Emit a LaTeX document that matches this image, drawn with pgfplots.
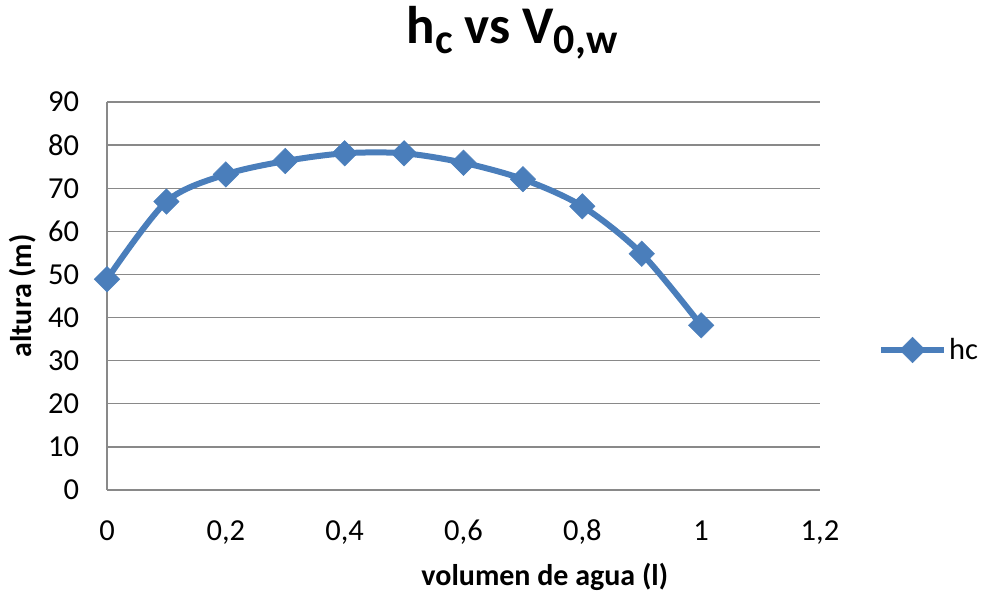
\documentclass[border=0pt]{standalone}
\usepackage{pgfplots}
\pgfplotsset{compat=1.18}
\usepackage{fontspec}
\setmainfont{Carlito}
\definecolor{serie}{HTML}{4A7EBB}
\definecolor{gridc}{HTML}{898989}
\begin{document}
\begin{tikzpicture}
\useasboundingbox (-107pt,-103pt) rectangle (874pt,490pt);
\begin{axis}[
  at={(0pt,0pt)}, anchor=south west,
  scale only axis, width=713pt, height=388pt,
  xmin=0, xmax=1.2, ymin=0, ymax=90,
  xtick={0,0.2,0.4,0.6,0.8,1,1.2},
  xticklabels={0,{0,2},{0,4},{0,6},{0,8},1,{1,2}},
  ytick={0,10,...,90},
  /pgf/number format/assume math mode=true,
  major tick length=0pt,
  tick style={draw=none},
  axis x line*=bottom, axis y line*=left,
  axis line style={-, draw=gridc, line width=1.3pt},
  ymajorgrids, grid style={draw=gridc, line width=1.3pt},
  ticklabel style={font=\fontsize{30.5}{36}\selectfont, inner sep=0pt},
  yticklabel style={anchor=east, xshift=-27.7pt},
  xticklabel style={anchor=base, yshift=-50pt},
  clip=false,
  title={h\raisebox{-10.5pt}{\fontsize{42}{48}\selectfont c} vs V\raisebox{-10.5pt}{\fontsize{42}{48}\selectfont 0,w}},
  title style={font=\fontsize{53}{60}\selectfont\bfseries, at={(axis description cs:0.568,1)}, anchor=base, yshift=52.7pt},
  xlabel={volumen de agua (l)},
  xlabel style={font=\fontsize{30}{36}\selectfont\bfseries, at={(axis description cs:0.614,0)}, anchor=base, yshift=-95pt},
  ylabel={altura (m)},
  ylabel style={font=\fontsize{30}{36}\selectfont\bfseries, at={(axis description cs:-0.1178,0.5)}, anchor=center},
  legend style={draw=none, fill=none, inner sep=0pt, outer sep=0pt,
    at={(axis description cs:1.087,0.3608)}, anchor=west, xshift=-4pt,
    font=\fontsize{30.5}{36}\selectfont,
    nodes={inner sep=0pt},
    /tikz/every odd column/.append style={column sep=2pt}},
  legend image code/.code={%
    \draw[#1,mark=none] (0pt,0pt) -- (63pt,0pt);
    \path[#1] plot coordinates {(31.5pt,0pt)};},
]
\addplot[serie, line width=6pt, smooth, tension=0.5,
  mark=square*, mark size=9pt,
  mark options={solid, fill=serie, draw=serie, line width=0.5pt, rotate=45}]
  coordinates {
  (0,48.9) (0.1,66.9) (0.2,73.2) (0.3,76.3) (0.4,78.1) (0.5,78.1)
  (0.6,75.9) (0.7,72.1) (0.8,65.8) (0.9,54.8) (1.0,38.2)
  };
\addlegendentry{hc}
\end{axis}
\end{tikzpicture}
\end{document}
